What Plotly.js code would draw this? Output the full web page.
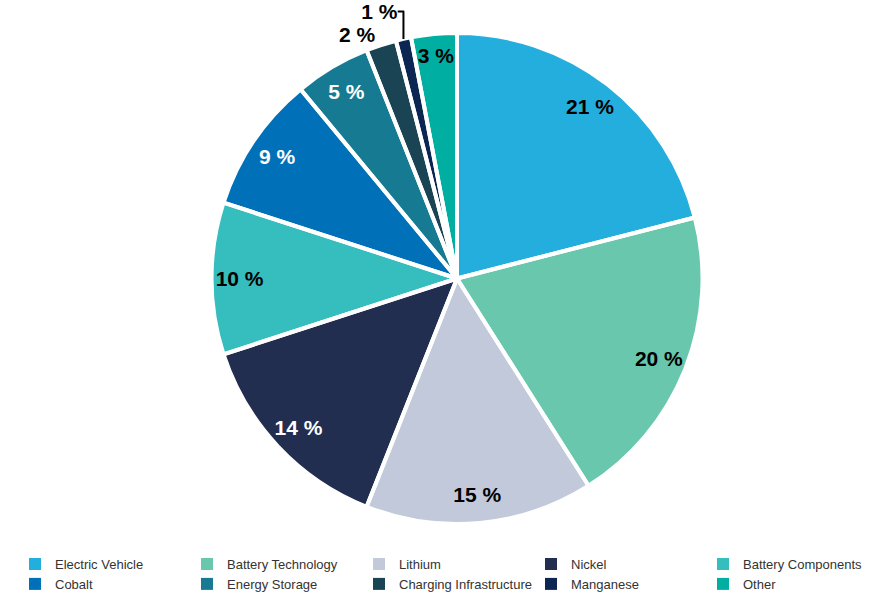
<!DOCTYPE html>
<html>
<head>
<meta charset="utf-8">
<script src="https://cdn.plot.ly/plotly-3.0.1.min.js"></script>
<style>html,body{margin:0;padding:0;background:#fff;}#chart{width:875px;height:608px;}</style>
</head>
<body>
<div id="chart"></div>
<script>
var categories = ["Electric Vehicle", "Battery Technology", "Lithium", "Nickel", "Battery Components", "Cobalt", "Energy Storage", "Charging Infrastructure", "Manganese", "Other"];
var shares = [21, 20, 15, 14, 10, 9, 5, 2, 1, 3];
var sliceColors = ["#24AEDD", "#68C7AD", "#C1C9DA", "#212E50", "#36BDBD", "#0071B9", "#167B92", "#1A4453", "#0B2652", "#00AEA2"];
var labelColors = ["#000", "#000", "#000", "#fff", "#000", "#fff", "#fff", "#000", "#000", "#000"];
var labelPositions = ["inside", "inside", "inside", "inside", "inside", "inside", "inside", "outside", "outside", "inside"];

var domain = {x: [0.0446, 1], y: [0, 1]};
var transparent = categories.map(function(){return "rgba(0,0,0,0)";});
var pieTrace = {
  type: "pie",
  labels: categories,
  values: shares,
  sort: false,
  direction: "clockwise",
  rotation: 0,
  domain: domain,
  marker: {colors: sliceColors, line: {width: 0}},
  textinfo: "none",
  hoverinfo: "skip"
};
var borderTrace = {
  type: "pie",
  labels: categories,
  values: shares,
  sort: false,
  direction: "clockwise",
  rotation: 0,
  domain: domain,
  showlegend: false,
  marker: {colors: transparent, line: {color: "#ffffff", width: 4}},
  textinfo: "none",
  hoverinfo: "skip"
};
var labelTrace = {
  type: "pie",
  labels: categories,
  values: shares,
  sort: false,
  direction: "clockwise",
  rotation: 0,
  domain: domain,
  hole: 0.77,
  showlegend: false,
  marker: {colors: transparent, line: {width: 0}},
  texttemplate: "%{value} %",
  textposition: labelPositions,
  insidetextorientation: "horizontal",
  insidetextfont: {family: "Liberation Sans, Arial, sans-serif", size: 21, color: labelColors, weight: "bold"},
  outsidetextfont: {family: "Liberation Sans, Arial, sans-serif", size: 21, color: "#000", weight: "bold"},
  hoverinfo: "skip"
};

var layout = {
  width: 875,
  height: 608,
  margin: {l: 0, r: 0, t: 33, b: 84},
  paper_bgcolor: "#fff",
  showlegend: true,
  uniformtext: {mode: "show", minsize: 21},
  legend: {
    orientation: "h",
    x: 0.034,
    xanchor: "left",
    y: -0.051,
    yanchor: "top",
    entrywidth: 127,
    entrywidthmode: "pixels",
    traceorder: "normal",
    font: {family: "Liberation Sans, Arial, sans-serif", size: 13, color: "#333333"}
  }
};

Plotly.newPlot("chart", [pieTrace, borderTrace, labelTrace], layout, {displayModeBar: false, staticPlot: true});
</script>
</body>
</html>
